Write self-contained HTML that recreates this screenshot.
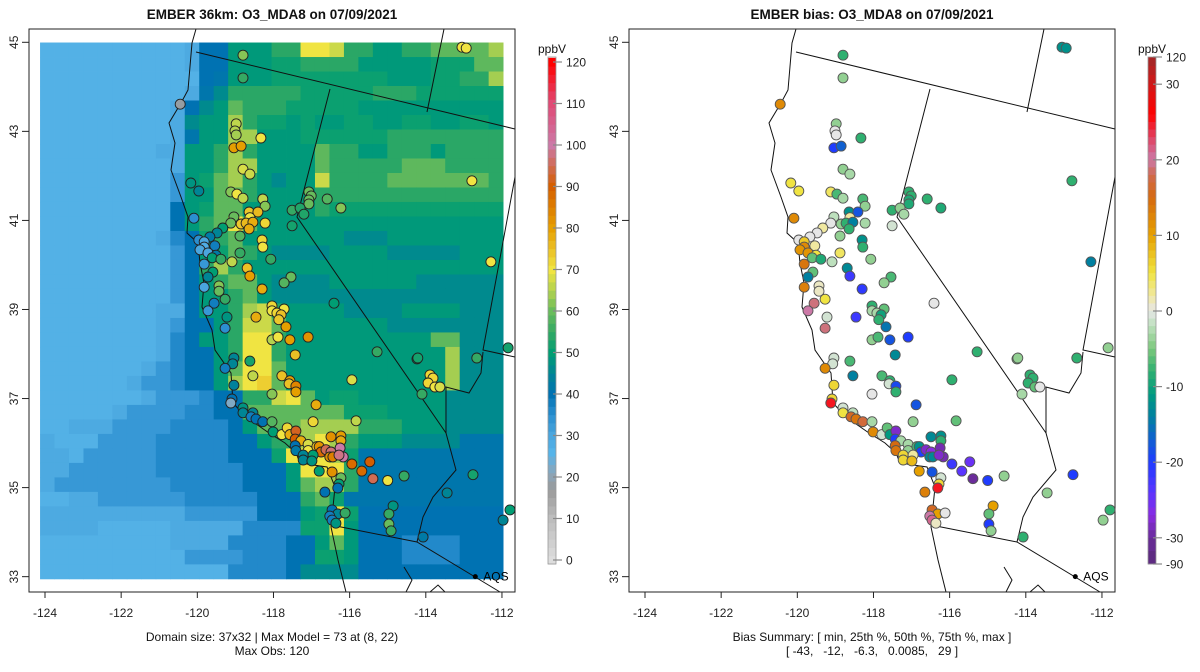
<!DOCTYPE html>
<html><head><meta charset="utf-8"><style>
html,body{margin:0;padding:0;background:#fff;}
svg{display:block;font-family:"Liberation Sans",sans-serif;}
</style></head><body>
<svg id="chart" width="1200" height="672" viewBox="0 0 1200 672" xmlns="http://www.w3.org/2000/svg"></svg>
<script>
// ---- model grid (32 cols x 37 rows), letters decode to ppbV levels ----
const levelKey = "abcdefghijklmno";
const levelVals = [27,29,33,36,40,41,46,49,51,54,59,64,67,70,73];
const modelRows = [
"aaaaaaaaaabeehhhjjnnmjjhhjjkkkkl",
"aaaaaaaaaabeehhhiijjjjhhhhhiiikk",
"aaaaaaaaaaaefhhhiiiiiiiihhhiijjl",
"aaaaaaaaaabfgjjjjjiiiiijjjiiiiii",
"aaaaaaaaabeghkjjjiiiiihhhhhhhhhh",
"aaaaaaaaabghhljiihihhiihhiihhiih",
"aaaaaaaaabfhhllhhhiiiiiijjjjjjjj",
"aaaaaaaabbhhjljhhhhkjjhhjjjhjjjj",
"aaaaaaaaabhhjllhhhhkjjjjjkkkjjjj",
"aaaaaaaaachikljhghhmjjjjkkkkkkkj",
"aaaaaaaaachhkkjhhhhjjjjjjjjjjjjj",
"aaaaaaaaaehikkhhhhhjiiiiiiiiiiii",
"aaaaaaaaaehjknkhhhhhhhhhhhhhhhhh",
"aaaaaaaabdeijkhhhhhhhggghhhhhhhh",
"aaaaaaaaacehikjhgggghhhhggggghhh",
"aaaaaaaaacejljhhhhhhhhhhhhhhhhhh",
"aaaaaaaaacehjkkhgggghhhhhhgggggg",
"aaaaaaaaacehhjkhgggggggggggggggg",
"aaaaaaaabbehhjlmjhhhhgggghhhhggg",
"aaaaaaaabceehjmmkhhhhhhhgggggggg",
"aaaaaaaabdehhjnnjhhhhhhhhhhkkggg",
"aaaaaaaabdeehjnnjhhhhhhhhhhhlggg",
"aaaaaaabcdeehknnkhhhhhhhhhhhlggg",
"aaaaaabccdeehlnokhhhhhhhhhhhlggg",
"aaaaaaabcccdeejjmnkhiihhhhhhgggg",
"aaaaabccccddeekkkkkkkiiihhhhgggg",
"aabbbccccddddehkkklllljjjhhhgggg",
"baaaccccdddddeehjjlnljhhhggggfff",
"bbacccccdddddeeeinnnliffffffffff",
"bbccccccddddddeeehnnnjffffffffff",
"bccccccccdddddeeehklljffffffffff",
"aabbccccccdddddeeejkifffffffffff",
"bbbbbbbbbbccccceeehinieeeeeeeeee",
"bbbbaaaaabbbbbddddiinheeeeeeeeee",
"aaaaaaaaabbbbddddeehkheeeddddeee",
"aaaaaaaaaaccccdddeeiiheeeddddeee",
"aaaaaaaaaaaaaddddeggggeeeeeeeeee"
];
// ---- station data ----
const stLon = [-120.45,-118.98,-119.01,-118.98,-118.33,-119.04,-118.85,-118.80,-118.62,-120.17,-119.96,-119.12,-118.96,-118.80,-118.28,-118.22,-120.09,-118.64,-118.41,-119.04,-118.62,-119.12,-118.85,-118.72,-118.54,-118.64,-118.22,-119.33,-119.48,-119.67,-119.96,-118.88,-118.30,-118.28,-119.82,-119.54,-119.82,-119.93,-119.72,-119.51,-119.61,-119.38,-118.88,-119.82,-119.09,-118.07,-119.59,-119.72,-118.69,-118.62,-119.82,-119.43,-119.43,-119.27,-119.56,-119.72,-119.22,-119.27,-118.30,-117.54,-117.72,-118.04,-117.72,-118.04,-117.91,-117.80,-117.86,-118.46,-117.67,-116.41,-117.07,-117.01,-117.07,-117.07,-116.59,-116.23,-117.51,-117.30,-117.20,-117.51,-118.04,-117.88,-117.57,-117.09,-117.43,-115.28,-114.23,-119.04,-119.07,-119.27,-118.62,-118.54,-117.78,-117.57,-117.59,-117.41,-117.41,-115.94,-118.04,-119.04,-119.09,-119.12,-118.80,-118.80,-118.54,-118.59,-118.46,-118.28,-118.04,-118.01,-117.78,-117.64,-117.57,-117.41,-117.43,-117.28,-116.96,-116.88,-115.83,-117.43,-117.41,-117.09,-117.09,-116.86,-116.80,-116.75,-116.62,-116.49,-116.52,-116.44,-116.23,-116.23,-116.25,-116.17,-116.28,-116.49,-117.22,-116.96,-117.22,-116.99,-116.80,-116.46,-115.94,-115.68,-115.47,-115.39,-115.00,-114.57,-116.23,-116.28,-116.31,-116.65,-114.86,-114.97,-114.97,-114.91,-116.46,-116.31,-116.12,-116.52,-116.46,-116.36,-118.80,-118.80,-113.05,-112.94,-112.79,-112.29,-114.21,-112.66,-113.89,-113.81,-113.94,-113.76,-114.10,-113.63,-111.84,-111.97,-112.76,-113.44,-114.07,-111.79];
const stLat = [43.61,43.17,43.01,42.92,42.85,42.63,42.67,42.15,42.04,41.84,41.66,41.64,41.59,41.50,41.48,41.32,41.05,41.19,41.19,41.08,41.06,40.94,40.92,40.94,40.96,40.81,40.94,40.83,40.72,40.63,40.56,40.65,40.56,40.40,40.52,40.43,40.40,40.34,40.27,40.22,40.16,40.13,40.27,40.02,40.07,40.13,39.84,39.73,39.93,39.75,39.50,39.53,39.41,39.23,39.14,38.97,38.83,38.58,39.46,39.73,39.60,39.08,39.01,38.97,38.92,38.88,38.77,38.83,38.61,39.14,41.64,41.55,41.46,41.37,41.48,41.28,41.23,41.28,41.14,40.88,38.32,38.38,38.32,38.38,37.98,38.05,37.89,37.91,37.78,37.68,37.84,37.51,37.51,37.40,37.33,37.28,37.15,37.42,37.10,37.30,36.99,36.90,36.79,36.68,36.68,36.59,36.54,36.48,36.48,36.25,36.19,36.34,36.19,36.27,36.09,36.05,36.48,36.86,36.50,35.94,35.83,35.97,35.83,35.92,35.92,35.80,35.85,35.80,35.69,35.69,36.16,36.05,35.89,35.69,35.73,36.14,35.73,35.73,35.62,35.60,35.37,35.35,35.53,35.37,35.58,35.20,35.16,35.26,35.22,35.08,34.99,34.90,34.59,34.41,34.18,34.03,34.50,34.41,34.43,34.36,34.27,34.20,44.71,44.20,44.89,44.87,41.89,40.07,37.91,37.91,37.53,37.46,37.35,37.26,37.10,37.26,38.14,34.27,35.29,34.88,33.89,34.50];
const stObs = [18,66,65,64,70,80,80,68,67,48,45,62,70,66,66,62,35,74,76,60,70,60,74,76,78,78,72,50,45,42,35,58,72,70,30,38,28,30,30,42,50,55,55,33,66,55,50,45,75,80,30,62,60,55,38,33,48,35,78,60,58,72,70,70,72,75,74,78,80,50,60,60,60,60,58,62,55,53,53,52,65,70,80,82,75,55,50,45,45,38,52,66,75,80,75,84,80,68,62,44,40,22,48,45,45,38,40,40,58,50,70,72,78,92,90,78,72,78,66,40,42,68,70,75,82,88,95,97,82,85,80,78,100,100,98,82,45,50,45,48,50,82,88,88,90,95,70,55,60,50,40,40,48,55,60,55,40,45,55,38,38,48,62,55,70,70,70,70,52,55,72,72,72,70,55,68,52,45,52,45,42,50];
const stBias = [12,-4,0,0,-8,-20,-17,-4,-3,5,5,4,-7,-3,-7,-4,12,-12,-18,-2,2,0,-4,-8,-14,-8,-3,2,0,0,0,-4,-12,-8,7,2,12,11,11,5,-6,-9,4,14,-2,-4,-6,-14,-13,-22,13,1,1,5,19,20,-1,19,-21,-7,-4,-8,-6,-3,-3,-10,-8,-22,-15,0,-8,-8,-9,-9,-8,-9,-8,-4,-3,-1,-4,-7,-18,-20,-13,-8,-5,-1,-1,12,-7,-14,-7,-8,-1,-19,-8,-8,0,6,6,25,-1,5,-2,16,14,17,-3,12,-1,-6,-11,-28,-20,-3,-4,-18,-6,15,14,-3,-4,-7,-12,-20,-28,-27,-13,-13,-12,-8,-29,-29,-28,-13,6,2,6,8,10,-18,-22,-24,-25,-30,-20,-4,-1,6,25,13,10,-6,-20,-4,16,10,0,20,21,1,-8,-4,-12,-12,-8,-14,-4,-8,-8,-8,-8,-6,-3,0,-4,-4,-20,-4,-8,-8];
const xTicks = [-124,-122,-120,-118,-116,-114,-112];
const yTicks = [45,43,41,39,37,35,33];
const obsTicks = [0,10,20,30,40,50,60,70,80,90,100,110,120];
const biasTicks = [120,30,20,10,0,-10,-20,-30,-90];

const NS="http://www.w3.org/2000/svg";
const svg=document.getElementById('chart');
function mk(tag,attrs,parent){const e=document.createElementNS(NS,tag);for(const k in attrs)e.setAttribute(k,attrs[k]);(parent||svg).appendChild(e);return e;}
function hex(h){return [parseInt(h.substr(1,2),16),parseInt(h.substr(3,2),16),parseInt(h.substr(5,2),16)];}
function interp(stops,v){
  if(v<=stops[0][0])return stops[0][1];
  for(let i=1;i<stops.length;i++){if(v<=stops[i][0]){const a=stops[i-1],b=stops[i];const t=(v-a[0])/(b[0]-a[0]);const ca=hex(a[1]),cb=hex(b[1]);return 'rgb('+ca.map((c,j)=>Math.round(c+(cb[j]-c)*t)).join(',')+')';}}
  return stops[stops.length-1][1];
}
const obsStops=[[0,"#dddddd"],[10,"#bdbdbd"],[17,"#9a9a9a"],[21,"#8aa6bb"],[26,"#56b4e9"],[30,"#4aa6de"],[35,"#2b8fd0"],[40,"#0072b2"],[45,"#008595"],[50,"#009e73"],[55,"#35a963"],[60,"#68bc5c"],[65,"#b3d24e"],[70,"#f0e442"],[75,"#ebc025"],[80,"#e69f00"],[90,"#d55e00"],[100,"#cc79a7"],[110,"#e04a75"],[120,"#ff0000"]];
const biasStops=[[-90,"#5a2a7a"],[-30,"#6a2c9a"],[-27,"#8a2be2"],[-24,"#5a35ff"],[-20,"#1f3cff"],[-17,"#1060d0"],[-14,"#0080a0"],[-11,"#009a80"],[-8,"#2fb070"],[-5,"#7cc87c"],[-2,"#bde0bd"],[0,"#e6e6e6"],[2,"#f0e8a0"],[5,"#f0e442"],[10,"#e6a000"],[15,"#d56a10"],[18,"#d06a50"],[20,"#cc79a7"],[23,"#e04060"],[26,"#ff0000"],[30,"#d01818"],[120,"#a02828"]];

function X(lon,off){return 45+(lon+124)*38.08+off;}
function Y(lat){return 42.3+(45-lat)*44.53;}

const coastPath=[[196,29],[192,43],[188,90],[181,103],[169,123],[175,143],[171,170],[181,197],[188,217],[187,233],[198,243],[200,263],[204,283],[202,307],[212,330],[215,350],[231,373],[233,403],[246,417],[269,433],[285,443],[296,453],[300,463],[327,467],[335,487],[331,527],[338,560],[346,592]];
const borderLines=[
 [[196,52],[515,129]],
 [[330,89],[297,217],[446,433]],
 [[444,29],[427,112]],
 [[515,177],[483,350],[515,357]],
 [[483,352],[481,373],[469,393],[446,387],[446,433],[456,470],[433,497],[423,517],[417,542]],
 [[331,525],[417,542],[500,592]],
 [[404,567],[412,580],[406,592]],
 [[430,592],[438,585],[445,592]]
];

function panel(off,isBias){
  const g=mk('g',{});
  
  
  if(!isBias){
    const hg=mk('g',{},g);
    
    
    const nC=32,nR=modelRows.length;
    const lonL=-124.13,lonR=-111.97,latT=44.995,latB=32.95;
    const lonW=(lonR-lonL)/nC, latH=(latT-latB)/nR;
    modelRows.forEach((row,r)=>{
      for(let c=0;c<nC;c++){
        const ch=row[c]||row[row.length-1];
        const v=levelVals[levelKey.indexOf(ch)];
        const x0=X(lonL+c*lonW,off),x1=X(lonL+(c+1)*lonW,off);
        const y0=Y(latT-r*latH),y1=Y(latT-(r+1)*latH);
        const rc=mk('rect',{x:x0.toFixed(2),y:y0.toFixed(2),width:(x1-x0+0.4).toFixed(2),height:(y1-y0+0.4).toFixed(2),fill:interp(obsStops,v)},hg);
        
        
      }
    });
  }
  const lg=mk('g',{fill:'none',stroke:'#111','stroke-width':1},g);
  
  
  const cp=mk('polyline',{points:coastPath.map(p=>(p[0]+off)+','+p[1]).join(' ')},lg);
  
  
  borderLines.forEach(bl=>{
    const pl=mk('polyline',{points:bl.map(p=>(p[0]+off)+','+p[1]).join(' ')},lg);
    
    
  });
  const fr=mk('rect',{x:29+off,y:29,width:486,height:563,fill:'none',stroke:'#222','stroke-width':1},g);
  
  
  const sg=mk('g',{},g);
  
  
  for(let i=0;i<stLon.length;i++){
    const v=isBias?stBias[i]:stObs[i];
    const cx=X(stLon[i],off),cy=Y(stLat[i]);
    if(cx>515+off-1)continue;
    const ci=mk('circle',{cx:cx.toFixed(1),cy:cy.toFixed(1),r:5,fill:interp(isBias?biasStops:obsStops,v),stroke:isBias?'#555':'#222','stroke-width':0.9},sg);
    
    
  }
  const ad=mk('circle',{cx:X(-112.7,off),cy:Y(33),r:2.5,fill:'#000'},g);
  
  
  const at=mk('text',{x:X(-112.7,off)+8,y:Y(33)+4,'font-size':12,fill:'#000'},g);
  at.textContent='AQS';
  
  
  xTicks.forEach(t=>{
    const x=X(t,off);
    const tl=mk('line',{x1:x,y1:592,x2:x,y2:598,stroke:'#222'},g);
    
    
    const tx=mk('text',{x:x,y:617,'font-size':12,'text-anchor':'middle',fill:'#222'},g);
    tx.textContent=String(t);
    
    
  });
  yTicks.forEach(t=>{
    const y=Y(t);
    const tl=mk('line',{x1:22+off,y1:y,x2:29+off,y2:y,stroke:'#222'},g);
    
    
    const tx=mk('text',{x:0,y:0,'font-size':12,'text-anchor':'middle',fill:'#222',transform:'translate('+(18+off)+','+y+') rotate(-90)'},g);
    tx.textContent=String(t);
    
    
  });
}
panel(0,false);
panel(600,true);

function txt(x,y,s,name,opts){const t=mk('text',Object.assign({x:x,y:y,'font-size':12,'text-anchor':'middle',fill:'#111'},opts||{}));t.textContent=s;return t;}
txt(272,19,'EMBER 36km: O3_MDA8 on 07/09/2021','model-title',{'font-weight':'bold','font-size':13.5});
txt(872,19,'EMBER bias: O3_MDA8 on 07/09/2021','bias-title',{'font-weight':'bold','font-size':13.5});
txt(272,641,'Domain size: 37x32 | Max Model = 73 at (8, 22)','domain-caption');
txt(272,655,'Max Obs: 120','max-obs-caption');
txt(872,641,'Bias Summary: [ min, 25th %, 50th %, 75th %, max ]','bias-summary-caption');
txt(872,655,'[ -43,   -12,   -6.3,   0.0085,   29 ]','bias-summary-values',{style:'white-space:pre'});

(function(){
  const g=mk('g',{});
  
  
  const yv=v=>560-v*4.15;
  for(let v=-1;v<121;v+=2){
    const r=mk('rect',{x:548,y:yv(v+2).toFixed(2),width:8,height:(2*4.15+0.4).toFixed(2),fill:interp(obsStops,v+1)},g);
    
    
  }
  mk('rect',{x:548,y:57,width:8,height:507,fill:'none',stroke:'#999','stroke-width':0.8},g);
  obsTicks.forEach(t=>{
    const y=yv(t);
    const l=mk('line',{x1:553,y1:y,x2:562,y2:y,stroke:'#888','stroke-width':1.2},g);
    
    
    const tx=mk('text',{x:566,y:y+4.5,'font-size':12,fill:'#222'},g);
    tx.textContent=String(t);
    
    
  });
  txt(552,53,'ppbV','obs-colorbar-unit');
})();
(function(){
  const g=mk('g',{});
  
  
  function yv(v){
    if(v>30)return 84-(v-30)/90*27;
    if(v<-30)return 538+(-30-v)/60*26;
    return 311-v*7.56;
  }
  const steps=[120,90,60].concat([...Array(61).keys()].map(i=>30-i)).concat([-60,-90]);
  for(let i=0;i<steps.length-1;i++){
    const a=steps[i],b=steps[i+1];
    const r=mk('rect',{x:1148,y:yv(a).toFixed(2),width:8,height:(yv(b)-yv(a)+0.4).toFixed(2),fill:interp(biasStops,(a+b)/2)},g);
    
    
  }
  mk('rect',{x:1148,y:57,width:8,height:507,fill:'none',stroke:'#999','stroke-width':0.8},g);
  biasTicks.forEach(t=>{
    const y=yv(t);
    const l=mk('line',{x1:1153,y1:y,x2:1162,y2:y,stroke:'#888','stroke-width':1.2},g);
    
    
    const tx=mk('text',{x:1166,y:y+4.5,'font-size':12,fill:'#222'},g);
    tx.textContent=String(t);
    
    
  });
  txt(1152,53,'ppbV','bias-colorbar-unit');
})();
</script>
</body></html>
